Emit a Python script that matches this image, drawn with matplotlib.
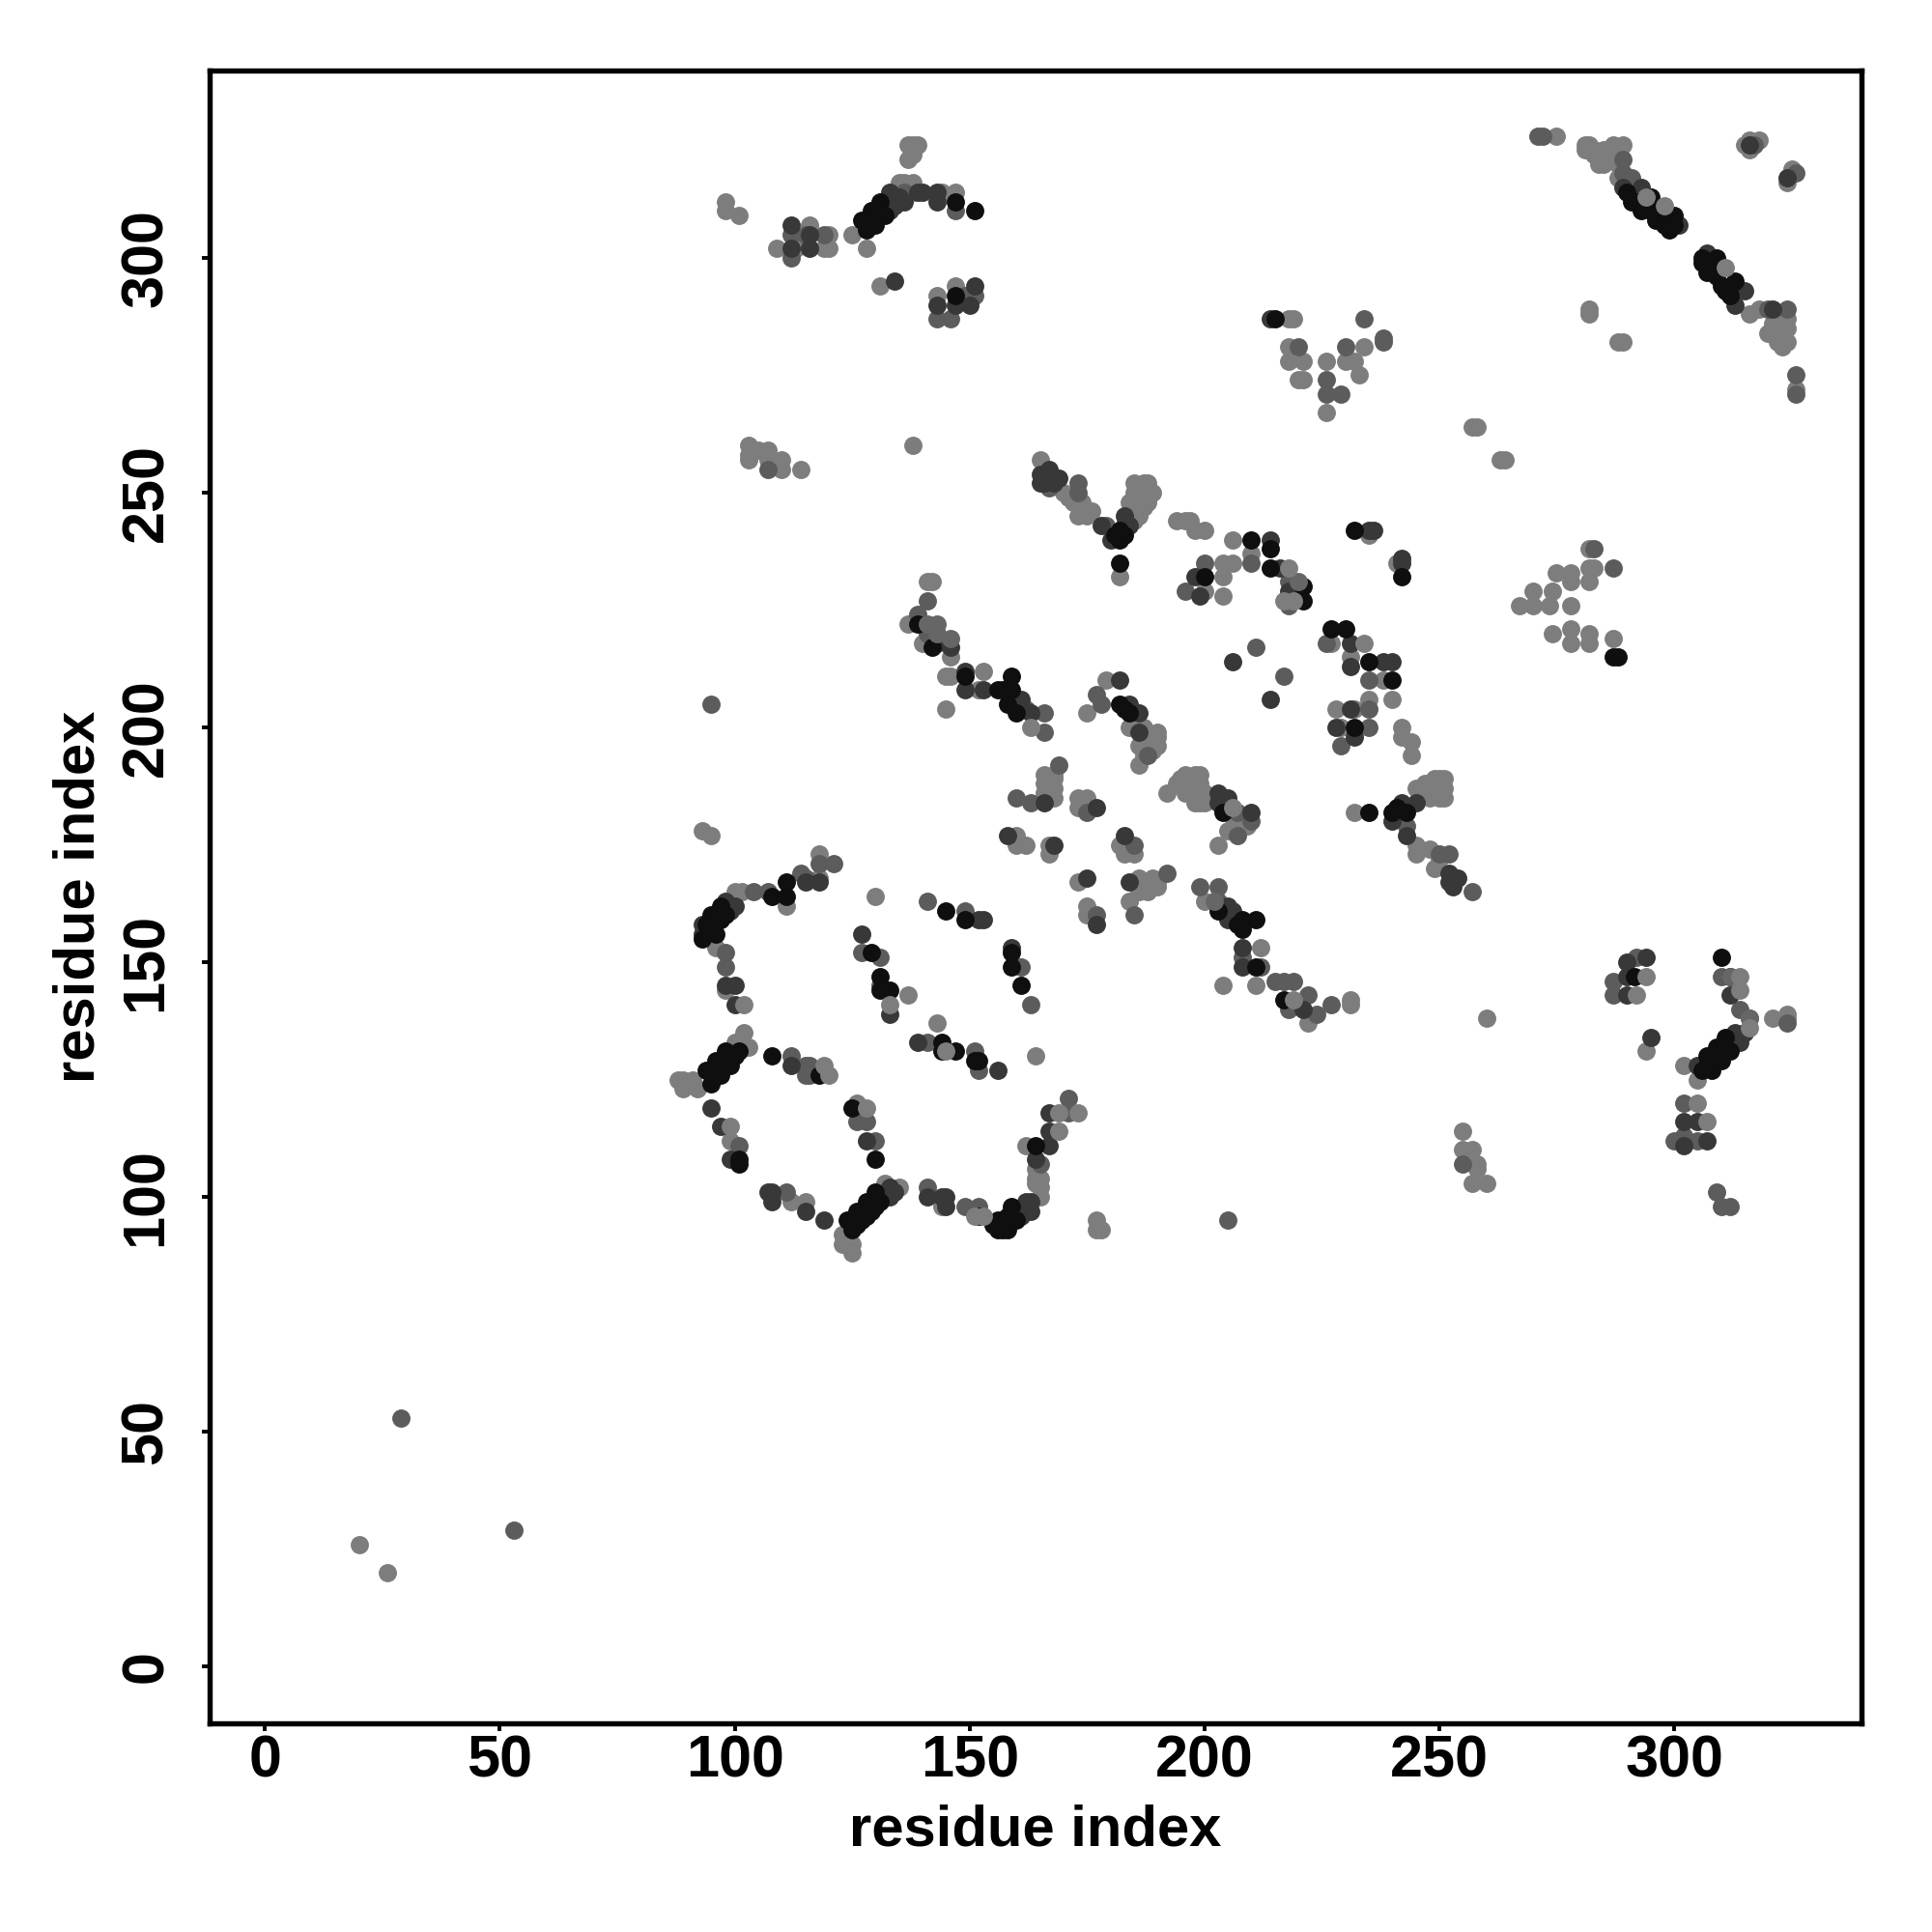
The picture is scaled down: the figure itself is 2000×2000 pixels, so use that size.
import matplotlib
matplotlib.use("Agg")
import matplotlib.pyplot as plt

black = [(97,162),(98,160),(95,160),(96,156),(93,155),(94,158),(97,159),(95,158),(101,131),(98,131),(99,128),(96,129),(97,126),(94,127),(95,124),(100,130),(98,128),(96,126),
 (101,108),(101,107),(111,167),(111,164),(108,164),(124,95),(125,93),(126,97),(127,95),(128,99),(129,97),(130,101),(131,99),(126,94),(128,96),(130,98),
 (152,96),(155,94),(156,95),(157,93),(158,93),(156,93),(157,95),(159,98),(159,95),(160,95),(158,96),(164,111),(108,130),(118,126),(125,119),(130,108),
 (129,152),(131,147),(131,144),(133,144),(145,161),(149,159),(159,152),(159,149),(161,145),(144,133),(144,131),(147,131),(151,129),(152,129),
 (127,308),(128,306),(129,310),(130,307),(131,312),(132,309),(129,308),(131,310),
 (147,312),(151,310),(147,292),(182,240),(182,242),(181,241),(183,241),(182,235),(142,217),(139,222),(210,240),(214,238),(214,234),(221,230),(221,227),(200,232),(232,242),(242,232),
 (227,221),(230,221),(235,214),(240,210),(232,200),(159,211),(159,208),(156,208),(157,208),(158,205),(160,203),(182,205),(184,203),(183,204),(204,182),(149,211),
 (203,161),(208,159),(211,159),(207,158),(208,157),(211,149),(217,142),(235,182),(240,182),(243,182),(241,183),(287,215),(288,215),(291.6,147),(310,151),(312,147),
 (290,314),(291,312),(293,310),(296,308),(295,313),(300,309),(299,306),(297,308),(292,312),(294,311),(295,310),(298,307),(299,308),(300,307),(306,300),(306,299),(309,300),(307,297),(308,298),(310,294),(309,296),(313,295),(312,292),(311,293),(312,294),
 (307,130),(307,128),(309,132),(309,130),(311,134),(310,129),(312,131),(308,127),(306,127),(215,287)]
dark = [(93,158),(93,156),(98,163),(100,162),(99,161),(98,145),(100,145),(100,141),(95,119),(97,115),(99,108),(115,167),(118,167),
 (107,101),(108,101),(108,99),(115,97),(119,95),(133,102),(133,100),(132,100),(134,101),(141,100),(144,100),(145,100),(145,98),(160,97),(161,96),(161,97),(162,99),(163,99),(163,97),(164,108),(167,111),(167,114),(167,118),
 (112,128),(128,112),(127,156),(133,139),(153,159),(152,159),(159,153),(139,133),(156,127),(133,314),(134,311),(135,313),(136,312),(133,310),(139,314),(140,314),(143,314),(143,312),(134,295),(143,290),(147,290),(151,294),(150,290),(112,307),(116,305),(116,302),(112,302),
 (165,254),(167,255),(165,252),(169,253),(166,253),(167,253),(166,252),(168,252),(178,243),(180,240),(183,245),(184,243),(183,243),(214,240),(216,234),(218,229),(198,232),(199,228),(235,242),(236,242),(242,236),(242,235),
 (206,214),(214,206),(231,218),(231,213),(238,214),(240,214),(231,204),(228,200),(232,198),(143,218),(146,217),(149,212),(153,208),(149,208),(161,206),(163,203),(182,210),(184,205),(186,203),(186,199),
 (166,184),(177,183),(203,186),(205,185),(203,184),(210,182),(158,177),(168,175),(183,177),(175,168),(184,167),(177,158),(205,162),(206,161),(205,159),(208,153),(208,149),(221,140),
 (242,184),(240,180),(245,184),(243,177),(252,169),(252,167),(254,168),(253,166),(290,150),(290,147),(294,151),(290,143),(295,134),(302,116),(305,116),(302,111),(307,112),(312,143),(305,128),(314,133),(313,135),(315,135),
 (293,315),(289,315),(297,310),(301,307),(307,301),(315,293),(313,290),(321,289),(324,317),(316,324),(214,287)]
mid = [(121,171),(118,171),(114,169),(115,168),(107,165),(104,165),(98,152),(98,149),(101,111),(111,101),(141,102),(149,98),(152,98),(165,107),(171,121),(171,118),
 (112,130),(115,128),(116,128),(115,126),(116,126),(126,116),(128,116),(130,112),(127,152),(131,151),(131,145),(141,163),(149,161),(161,149),(163,141),(141,133),(151,131),(152,127),
 (112,305),(112,300),(115,305),(119,305),(136,314),(147,310),(143,287),(146,287),(151,292),(149,292),
 (107,255),(173,252),(173,250),(167,251),(179,243),(210,235),(218,231),(218,226),(200,235),(196,229),(211,217),(217,211),
 (226,218),(235,210),(235,204),(235,200),(229,196),(141,227),(139,224),(141,220),(166,203),(166,199),(162,204),(177,207),(178,205),(188,194),(169,192),(160,185),(163,184),(175,182),
 (207,182),(210,180),(207,177),(185,175),(192,169),(185,160),(177,160),(199,166),(203,166),(203,163),(212,149),(208,151),
 (215,146),(217,146),(219,146),(218,140),(222,143),(224,139),(227,141),(250,173),(252,173),(243,179),(257,165),
 (255,107),(205,95),(95,205),(29,53),(53,29),(271,326),(272,326),(289,321),(291,317),(289,318),(320,289),(324,289),(326,275),(326,271),(317,324),(326,318),
 (220,281),(226,274),(226,271),(229,271),(230,281),(238,283),(234,287),(238,282),(283,238),(287,234),(287,146),(287,143),(292,151),
 (302,120),(300,112),(302,113),(305,112),(309,101),(310,98),(312,98),(310,147),(314,140),(324,137)]
light = [(118,173),(118,168),(111,162),(101.5,165),(100,165),(96,153),(98,144),(102,135),(103,132),(100,133),(88,125),(89,125),(89,123),(91,125),(92,123),
 (99,112),(112,99),(115,99),(123,90),(125,88),(125,90),(123,92),(132,103),(135,102),(144,98),(165,100),(165,102),(164,104),(165,104),(164,106),(164,103),(162,111),
 (126,120),(130,164),(143,137),(164,130),(177,95),(177,93),(178,93),
 (98,312),(98,310),(101,309),(109,302),(113,302),(116,307),(120,305),(119,302),(120,302),(125,305),(128,302),(135,316),(136,316),(138,316),(138,314),
 (137,324),(138,324),(139,324),(137,321),(138,322),(144,314),(147,314),(131,294),(143,292),(147,294),
 (103,260),(103,258),(103,257),(107,259),(105,259),(107,257),(110,257),(110,255),(114,255),(138,260),
 (165,257),(170,250),(171,249),(172,248),(174,248),(173,245),(175,245),(176,246),(185,244),(186,245),(185,248),(185,252),(187,252),(189,250),(186,250),(185,250),(184,248),(186,248),(187,250),(188,252),(188,248),(187,247),(182,232),
 (194,244),(196,244),(197,244),(198,242),(200,242),(206,240),(210,237),(204,235),(206,235),(204,232),(204,228),(200,229),(235,241),(241,235),
 (227,218),(231,215),(238,210),(240,206),(235,206),(228,204),(232,204),(229,200),(242,200),(242,198),(244,197),(244,194),
 (141,231),(142,231),(137,222),(140,218),(145,211),(146,211),(146,215),(153,212),(152,208),(145,204),(179,210),(175,203),(184,200),(187,200),(190,199),(186,196),(188,196),(190,196),(186,192),(187,198),(188,198),(189,198),(187,194),(189,195),(190,198),
 (166,190),(168,187),(166,186),(168,185),(168,189),(167,188),(168,190),(166,188),(173,185),(175,185),(173,183),(192,186),(194,188),(196,190),(196,186),(199,190),(199,188),(199,184),(200,184),(200,186),(197,188),(198,186),(197,186),(198,190),(195,189),(196,188),(198,184),
 (209,179),(205,178),(203,175),(204,185),(205,183),(206,181),(207,180),(208,180),(160,177),(160,175),(162,175),(167,175),(167,173),(182,175),(183,173),(185,173),(173,167),(186,168),(187,167),(190,167),(185,167),(186,167),(188,167),(189,168),(186,165),(188,165),(190,166),(184,163),(175,162),(175,160),(200,163),
 (212,153),(211,145),(204,145),(222,137),(231,142),(231,141),(232,182),(245,187),(247,188),(250,189),(251,187),(250,185),(251,185),(248,187),(249,187),(248,185),(249,189),(251,189),(247,186),(245,175),(245,173),(248,174),(249,170),(250,172),
 (255,114),(255,110),(257,110),(258,107),(257,103),(260,103),(258,106),(260,138),(93,178),(95,177),(20,26),(26,20),(275,326),
 (281,324),(282,324),(281,323),(283,323),(284,322),(284,320),(283,322),(285,323),(286,321),(285,320),(286,322),(288,320),(287,324),(289,324),(287,322),(288,317),(316,288),(318,289),(324,287),(320,284),(322,286),(323,281),(324,282),(322,282),(323,283),(322,284),(321,286),(323,287),(324,285),
 (282,289),(282,288),(288,282),(289,282),(326,272),(316,325),(315,324),(318,325),(316,323),(324,316),(325,319),
 (218,287),(219,287),(218,281),(218,278),(221,278),(220,274),(221,274),(226,278),(226,267),(230,278),(232,278),(233,275),(234,281),
 (257,264),(258,264),(263,257),(264,257),(267,226),(270,226),(273.5,226),(270,229),(274,229),(275,233),(278,233),(278,226),(274,220),(278,221),(278,218),(282,218),(282,220),(278,231),(282,231),(282,234),(282,238),(287,219),(283,234),
 (294,131),(302,128),(305,125),(321,138),(324,139),(324,138),(316,138)]
mid_top = [(143,220),(146,219),(141,222),(316,138),(143,222),(312,147),(220,231),(202,163)]
light_top = [(102,141),(99,115),(151,96),(153,96),(169,114),(169,118),(173,118),(119,128),(120,126),(128,119),(137,143),(133,141),(145,131),
 (218,234),(217,227),(219,227),(234,218),(163,200),(206,183),(219,142),(294,313),(298,311),(311,298),(294,147),(292,143),(314,147),(314,144),(305,120),(307,116),(316,136)]

tones = [(light, 0.49), (mid, 0.36), (dark, 0.22), (black, 0.06), (mid_top, 0.40), (light_top, 0.49)]
tick_values = [0, 50, 100, 150, 200, 250, 300]

plt.rcParams['font.family'] = ['Liberation Sans', 'DejaVu Sans']
W = 2000
fig = plt.figure(figsize=(20, 20), dpi=100)
ax = fig.add_axes([217/W, 1 - 1784/W, (1927-217)/W, (1784-73)/W])
for pts, g in tones:
    ax.scatter([p[0] for p in pts], [p[1] for p in pts], s=185, color=str(g), linewidths=0, zorder=3)
ax.set_xlim(-11.8, 339.9)
ax.set_ylim(-12.1, 339.9)
ax.set_xticks(tick_values)
ax.set_yticks(tick_values)
ax.tick_params(length=6, width=2.8, labelsize=44, pad=2)
ax.tick_params(axis='y', pad=20)
for lab in ax.get_xticklabels():
    lab.set_fontweight('bold')
for lab in ax.get_yticklabels():
    lab.set_fontweight('bold')
    lab.set_rotation(90)
    lab.set_va('center')
for s in ax.spines.values():
    s.set_linewidth(3.9)
ax.set_xlabel('residue index', fontsize=43, fontweight='bold', labelpad=11)
ax.set_ylabel('residue index', fontsize=43, fontweight='bold', labelpad=10)
fig.savefig('out.png', dpi=100, facecolor='white')
